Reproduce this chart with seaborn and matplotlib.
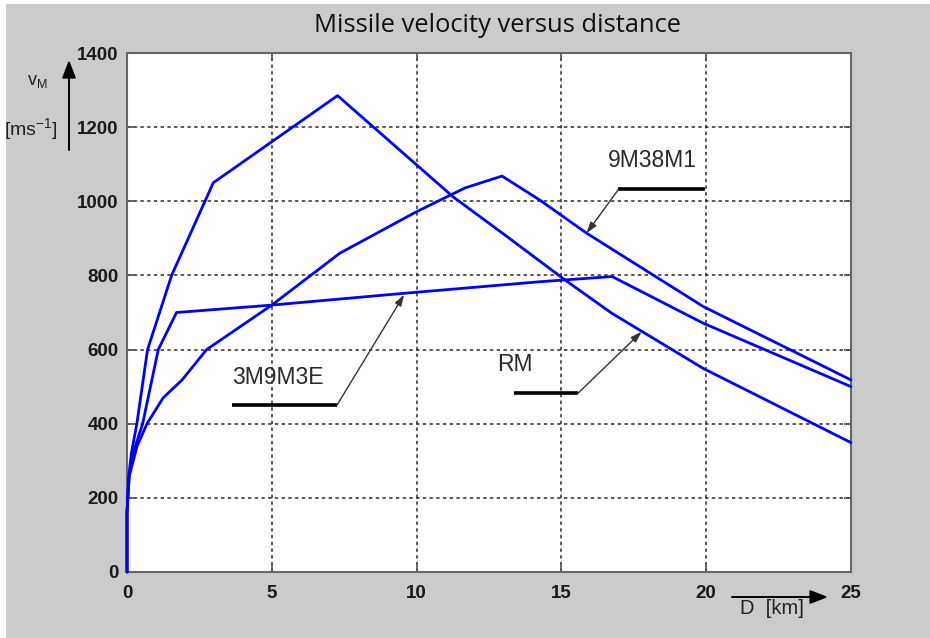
import numpy as np
import pandas as pd
import matplotlib
matplotlib.use('Agg')
import matplotlib.pyplot as plt
import seaborn as sns
from matplotlib.patches import Rectangle

# ---- data ----
rm_d = [0, 0.0, 0.05, 0.15, 0.34, 0.71, 1.54, 2.98, 7.27, 11.26, 13.05, 15.12, 16.74, 19.9, 25]
rm_v = [0, 160, 250, 320, 400, 600, 800, 1050, 1285, 1012, 909, 788, 698, 549, 349]

m3e_d = [0, 0.0, 0.07, 0.25, 0.54, 1.08, 1.71, 5.0, 9.6, 14.26, 16.75, 19.9, 25]
m3e_v = [0, 160, 260, 330, 400, 600, 700, 720, 752, 783, 797, 671, 500]

m38_d = [0, 0.0, 0.08, 0.35, 0.69, 1.25, 1.9, 2.75, 5.0, 7.35, 10.0, 11.67, 12.95, 14.26, 15.87, 19.9, 25]
m38_v = [0, 160, 260, 340, 400, 470, 518, 600, 720, 860, 972, 1036, 1068, 1003, 914, 716, 518]

x_ticks = [0, 5, 10, 15, 20, 25]
y_ticks = [0, 200, 400, 600, 800, 1000, 1200, 1400]

# annotation labels: text centre, underline span, underline y, arrow start, arrow tip
ann_names = ['9M38M1', '3M9M3E', 'RM']
ann_text_xy = [(18.13, 1109), (5.2, 526), (13.38, 561)]
ann_line_x = [(16.97, 19.96), (3.63, 7.25), (13.36, 15.57)]
ann_line_y = [1032, 450, 482]
ann_from_xy = [(16.97, 1032), (7.25, 450), (15.57, 482)]
ann_tip_xy = [(15.87, 914), (9.57, 748), (17.77, 648)]

frames = []
for name, d, v in [('RM', rm_d, rm_v), ('3M9M3E', m3e_d, m3e_v), ('9M38M1', m38_d, m38_v)]:
    frames.append(pd.DataFrame({'D': d, 'v': v, 'missile': name}))
df = pd.concat(frames, ignore_index=True)

sns.set_theme(style='white')
plt.rcParams['font.family'] = ['Liberation Sans', 'DejaVu Sans']

W, H = 930, 638
fig = plt.figure(figsize=(W / 100, H / 100), dpi=100, facecolor='white')
fig.patches.append(Rectangle((6 / W, 0), 1, 1 - 4 / H, transform=fig.transFigure,
                             facecolor='#cbcbcb', edgecolor='none', zorder=-10))

ax = fig.add_axes([127 / W, 1 - 572 / H, (851 - 127) / W, (572 - 53) / H])
ax.set_facecolor('white')

sns.lineplot(data=df, x='D', y='v', hue='missile', units='missile', estimator=None,
             sort=False, palette={'RM': '#0000ff', '3M9M3E': '#0000ff', '9M38M1': '#0000ff'},
             linewidth=2.0, legend=False, ax=ax)
for ln in ax.lines:
    ln.set_clip_on(False)
    ln.set_zorder(5)

ax.set_xlim(0, 25)
ax.set_ylim(0, 1400)
ax.set_xticks(x_ticks)
ax.set_yticks(y_ticks)
ax.set_xticklabels([str(t) for t in x_ticks])
ax.set_yticklabels([str(t) for t in y_ticks])
ax.set_xlabel('')
ax.set_ylabel('')
ax.grid(True, linestyle=(0, (2.2, 2.2)), color='#2a2a2a', linewidth=1.1)
ax.set_axisbelow(True)
for s in ax.spines.values():
    s.set_color('#666666')
    s.set_linewidth(1.5)
    s.set_visible(True)
ax.tick_params(axis='both', direction='in', length=5, color='#555555',
               labelsize=13.5, labelcolor='#1a1a1a', top=True, right=True, bottom=True, left=True)
ax.tick_params(axis='y', pad=6)
ax.tick_params(axis='x', pad=9)
for lab in ax.get_xticklabels() + ax.get_yticklabels():
    lab.set_fontweight('bold')

# annotations
for name, txy, lx, ly, fxy, tip in zip(ann_names, ann_text_xy, ann_line_x, ann_line_y,
                                       ann_from_xy, ann_tip_xy):
    ax.text(txy[0], txy[1], name, ha='center', va='center', fontsize=16.5,
            color='#2a2a2a', zorder=6)
    ax.plot(lx, [ly, ly], color='black', linewidth=2.6, solid_capstyle='butt', zorder=6)
    ax.annotate('', xy=tip, xytext=fxy,
                arrowprops=dict(arrowstyle='-|>,head_length=0.55,head_width=0.18',
                                color='#333333', linewidth=1.0, shrinkA=0, shrinkB=0),
                zorder=6)

# title
fig.text(497.5 / W, 1 - 25 / H, 'Missile velocity versus distance', ha='center', va='center',
         fontsize=18.4, family=['Open Sans', 'DejaVu Sans'], color='#111111')

# y-axis label with arrow
fig.text(37 / W, 1 - 82 / H, r'v$_{\mathregular{M}}$', ha='center', va='center',
         fontsize=13, color='#222222')
fig.text(31 / W, 1 - 130 / H, r'[ms$^{\mathregular{-1}}$]', ha='center', va='center',
         fontsize=14, color='#222222')
ax.annotate('', xy=(69 / W, 1 - 60 / H), xytext=(69 / W, 1 - 150 / H), xycoords='figure fraction',
            textcoords='figure fraction',
            arrowprops=dict(arrowstyle='-|>,head_length=0.9,head_width=0.35', color='black',
                            linewidth=1.4, shrinkA=0, shrinkB=0), annotation_clip=False)

# x-axis label with arrow
fig.text(772 / W, 1 - 609 / H, 'D  [km]', ha='center', va='center', fontsize=14.5, color='#222222')
ax.annotate('', xy=(828 / W, 1 - 597 / H), xytext=(732 / W, 1 - 597 / H), xycoords='figure fraction',
            textcoords='figure fraction',
            arrowprops=dict(arrowstyle='-|>,head_length=0.9,head_width=0.35', color='black',
                            linewidth=1.4, shrinkA=0, shrinkB=0), annotation_clip=False)

fig.savefig('out.png', dpi=100, facecolor=fig.get_facecolor())
